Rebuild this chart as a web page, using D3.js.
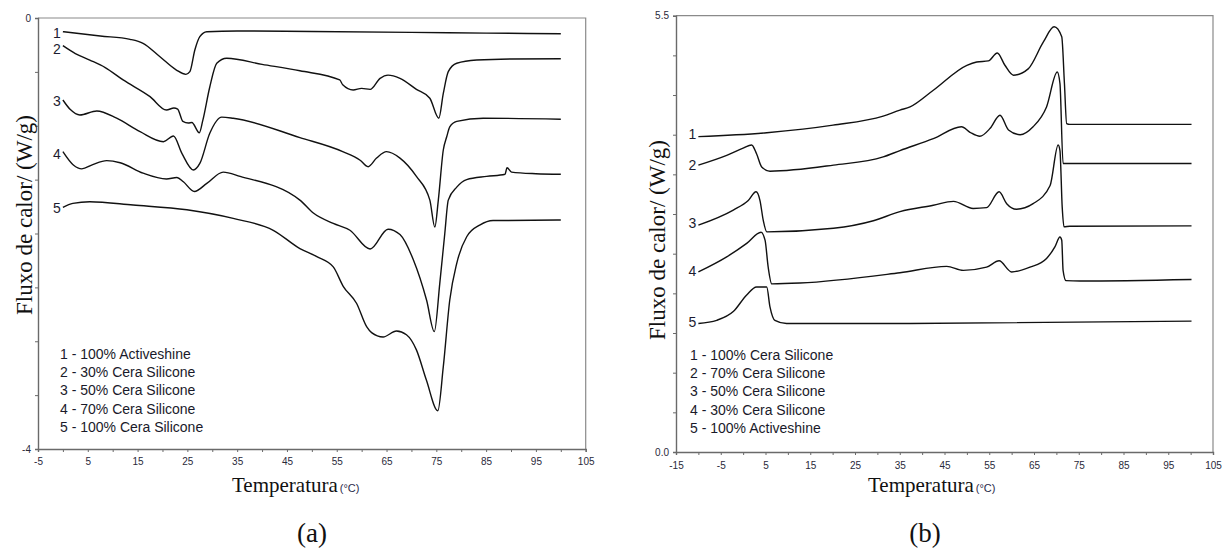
<!DOCTYPE html>
<html>
<head>
<meta charset="utf-8">
<script src="https://cdn.jsdelivr.net/npm/d3@7"></script>
<style>
  html, body { margin: 0; padding: 0; background: #fff; }
  svg { display: block; }
</style>
</head>
<body>
<svg id="chart" width="1223" height="548"></svg>
<script>
// ---------- DATA: panel (a) ----------
const curveA1 = [[0,-0.127],[7.5,-0.167],[13.5,-0.198],[16.1,-0.235],[19.5,-0.36],[22.8,-0.483],[24.7,-0.523],[25.5,-0.498],[26.5,-0.297],[27.5,-0.173],[28.9,-0.127],[35,-0.12],[50,-0.125],[70,-0.133],[85,-0.14],[100,-0.146]];
const curveA2 = [[0,-0.257],[2.5,-0.33],[5.4,-0.39],[8.5,-0.46],[12.1,-0.575],[17.5,-0.73],[20.8,-0.854],[22.3,-0.835],[23.05,-0.845],[24.1,-0.96],[25.2,-0.975],[25.9,-0.97],[27.4,-1.065],[28.1,-0.95],[29.5,-0.64],[30.9,-0.42],[32.9,-0.374],[40,-0.43],[47.6,-0.49],[55.6,-0.575],[56.2,-0.62],[58.3,-0.668],[60,-0.653],[61.7,-0.662],[63.7,-0.56],[65.3,-0.53],[67.7,-0.56],[71,-0.662],[73.7,-0.745],[75.5,-0.93],[76.4,-0.70],[77.4,-0.498],[79.1,-0.42],[83.1,-0.39],[90,-0.38],[100,-0.378]];
const curveA3 = [[0,-0.761],[1.5,-0.85],[3.4,-0.9],[6.8,-0.863],[10.8,-0.93],[15.5,-1.055],[20.2,-1.148],[22.2,-1.095],[23.9,-1.256],[26.2,-1.41],[27.5,-1.35],[29.5,-1.07],[31.9,-0.92],[34.2,-0.93],[47.6,-1.11],[56.2,-1.24],[59.7,-1.32],[61.3,-1.38],[63,-1.30],[65,-1.24],[67.7,-1.30],[71,-1.47],[73.7,-1.69],[74.7,-1.94],[75.4,-1.69],[76.4,-1.225],[77.1,-1.10],[77.7,-1.01],[79.1,-0.96],[84.4,-0.93],[100,-0.94]];
const curveA4 = [[0,-1.24],[2.1,-1.364],[3.8,-1.40],[6,-1.36],[8.8,-1.324],[11.5,-1.343],[16.1,-1.44],[20.8,-1.494],[22.9,-1.48],[24.2,-1.52],[26.4,-1.61],[28.9,-1.535],[32.2,-1.43],[35.6,-1.47],[47.6,-1.69],[50.3,-1.81],[54.3,-1.906],[57.65,-1.97],[61.7,-2.144],[65.3,-1.96],[67.7,-2.01],[70.4,-2.246],[73.05,-2.62],[74.6,-2.91],[75.7,-2.46],[76.7,-2.0],[77.4,-1.69],[79.1,-1.57],[81.1,-1.50],[85.1,-1.47],[88.8,-1.45],[89.2,-1.39],[90.1,-1.43],[95,-1.445],[100,-1.45]];
const curveA5 = [[0,-1.757],[2,-1.72],[5.4,-1.705],[14.1,-1.736],[24.9,-1.78],[34.2,-1.86],[42.25,-1.97],[47.6,-2.14],[51,-2.215],[54.3,-2.31],[56.3,-2.49],[59,-2.65],[61,-2.865],[62,-2.92],[64.3,-2.96],[67,-2.905],[69,-2.94],[71,-3.08],[73,-3.36],[75.3,-3.645],[76.4,-3.236],[77.7,-2.617],[79.1,-2.277],[81.1,-2.03],[83.8,-1.92],[86.4,-1.88],[100,-1.875]];
const legendA = ["1 - 100% Activeshine","2 - 30% Cera Silicone","3 - 50% Cera Silicone","4 - 70% Cera Silicone","5 - 100% Cera Silicone"];
const xTicksA = [-5,0,5,10,15,20,25,30,35,40,45,50,55,60,65,70,75,80,85,90,95,100,105];
const xLabelsA = [-5,5,15,25,35,45,55,65,75,85,95,105];
const yTicksA = [0,-0.5,-1,-1.5,-2,-2.5,-3,-3.5,-4];
const yLabelsA = [0,-4];

// ---------- DATA: panel (b) ----------
const curveB1 = [[-10,3.975],[5.3,4.025],[20.1,4.12],[31.3,4.235],[35.05,4.31],[37.3,4.35],[42.5,4.56],[50,4.875],[52.2,4.916],[54.8,4.93],[56.8,5.03],[58.5,4.875],[60.4,4.75],[63.7,4.83],[67.1,5.17],[69.5,5.36],[71.2,5.235],[71.8,4.645],[72.3,4.14],[73,4.13],[100.2,4.13]];
const curveB2 = [[-10,3.617],[-3.67,3.74],[0,3.83],[1.9,3.87],[3.0,3.76],[4.15,3.593],[6.0,3.54],[20.2,3.617],[31.3,3.72],[35.05,3.80],[42.5,3.95],[48.8,4.10],[50.7,4.03],[52.9,3.98],[55.2,4.08],[57.4,4.245],[59.3,4.06],[61.9,4.0],[64.8,4.10],[67.8,4.35],[70.2,4.79],[70.8,4.645],[71.5,3.636],[73,3.636],[100.2,3.636]];
const curveB3 = [[-10,2.86],[-2.2,3.05],[1.15,3.17],[2.88,3.28],[3.77,3.17],[4.5,2.92],[5.3,2.775],[20.2,2.82],[29.1,2.915],[35.05,3.03],[42.5,3.11],[47,3.16],[51.4,3.07],[54.4,3.08],[57.2,3.28],[58.9,3.13],[61.1,3.06],[64.8,3.13],[68.6,3.36],[70.4,3.87],[70.8,3.80],[71.3,3.09],[71.7,2.84],[73,2.845],[100.2,2.85]];
const curveB4 = [[-10,2.27],[-3.67,2.46],[0.8,2.63],[4.0,2.77],[4.9,2.67],[5.6,2.33],[6.4,2.12],[12.7,2.13],[35.05,2.26],[45.5,2.34],[49.2,2.29],[54.4,2.33],[57.2,2.41],[60,2.27],[64.1,2.33],[67.8,2.44],[69.7,2.59],[70.8,2.71],[71.2,2.67],[71.5,2.29],[72.15,2.16],[75.3,2.155],[100.2,2.175]];
const curveB5 = [[-10,1.62],[-5.9,1.66],[-2.2,1.77],[0.8,1.98],[3.0,2.08],[5.27,2.08],[6.0,1.83],[7.1,1.66],[9.7,1.62],[37.3,1.62],[100.2,1.65]];
const legendB = ["1 - 100% Cera Silicone","2 - 70% Cera Silicone","3 - 50% Cera Silicone","4 - 30% Cera Silicone","5 - 100% Activeshine"];
const xTicksB = [-15,-10,-5,0,5,10,15,20,25,30,35,40,45,50,55,60,65,70,75,80,85,90,95,100,105];
const xLabelsB = [-15,-5,5,15,25,35,45,55,65,75,85,95,105];
const yTicksB = [0,0.5,1,1.5,2,2.5,3,3.5,4,4.5,5,5.5];
const yLabelsB = [0,5.5];
const curveNames = ["1","2","3","4","5"];

// ---------- DRAW ----------
const svg = d3.select("#chart");

function panel(cfg) {
  const x = d3.scaleLinear().domain(cfg.xDomain).range([cfg.left, cfg.right]);
  const y = d3.scaleLinear().domain(cfg.yDomain).range([cfg.bottom, cfg.top]);
  const g = svg.append("g");

  // frame (top/right)
  g.append("path")
    .attr("d", `M${cfg.left},${cfg.top}H${cfg.right}V${cfg.bottom}`)
    .attr("fill", "none").attr("stroke", "#8a8a8a").attr("stroke-width", 1.2);

  const xAxis = d3.axisBottom(x).tickValues(cfg.xTicks).tickSize(3).tickPadding(cfg.xPad)
    .tickFormat(d => cfg.xLabels.includes(d) ? String(d) : "");
  const gx = g.append("g").attr("transform", `translate(0,${cfg.bottom})`).call(xAxis);
  const yAxis = d3.axisLeft(y).tickValues(cfg.yTicks).tickSize(3).tickPadding(4)
    .tickFormat(d => cfg.yLabels.includes(d) ? cfg.yFmt(d) : "");
  const gy = g.append("g").attr("transform", `translate(${cfg.left},0)`).call(yAxis);
  [gx, gy].forEach(a => {
    a.select(".domain").attr("stroke", "#6a6a6a").attr("stroke-width", 1.4);
    a.selectAll(".tick line").attr("stroke", "#6a6a6a").attr("stroke-width", 1);
    a.selectAll(".tick text").attr("font-family", "'Liberation Sans', Arial, sans-serif")
      .attr("font-size", 10).attr("fill", "#2a2a3a");
  });

  const line = d3.line().x(d => x(d[0])).y(d => y(d[1])).curve(d3.curveMonotoneX);
  cfg.curves.forEach((c, i) => {
    g.append("path").datum(c).attr("d", line)
      .attr("fill", "none").attr("stroke", "#111").attr("stroke-width", 1.4)
      .attr("stroke-linejoin", "round");
    g.append("text")
      .attr("x", x(c[0][0]) - 2).attr("y", y(c[0][1]) + cfg.labDy[i])
      .attr("text-anchor", "end")
      .attr("font-family", "'Liberation Sans', Arial, sans-serif").attr("font-size", 14)
      .attr("fill", "#1c1c30").text(curveNames[i]);
  });

  // legend
  g.append("g").selectAll("text").data(cfg.legend).join("text")
    .attr("x", cfg.legX).attr("y", (d, i) => cfg.legY + i * 18.2)
    .attr("font-family", "'Liberation Sans', Arial, sans-serif").attr("font-size", 14)
    .attr("fill", "#1a1a2a").text(d => d);

  // y title
  g.append("text")
    .attr("transform", `translate(${cfg.yTitleX},${cfg.yTitleY}) rotate(-90)`)
    .attr("text-anchor", "middle")
    .attr("font-family", "'Liberation Serif', 'Times New Roman', serif").attr("font-size", 23)
    .attr("fill", "#111").text("Fluxo de calor/ (W/g)");

  // x title
  const xt = g.append("text").attr("x", cfg.xTitleX).attr("y", 492)
    .attr("font-family", "'Liberation Serif', 'Times New Roman', serif").attr("font-size", 21).attr("fill", "#111");
  xt.append("tspan").text("Temperatura");
  xt.append("tspan").attr("font-family", "'Liberation Sans', Arial, sans-serif").attr("font-size", 11)
    .attr("fill", "#2a2a4a").attr("dx", 2).text("(°C)");

  // panel tag
  g.append("text").attr("x", cfg.tagX).attr("y", 542).attr("text-anchor", "middle")
    .attr("font-family", "'Liberation Serif', 'Times New Roman', serif").attr("font-size", 27)
    .attr("fill", "#111").text(cfg.tag);
}

panel({
  xDomain: [-5, 105], yDomain: [-4, 0],
  left: 38, right: 585.7, top: 18, bottom: 449,
  xTicks: xTicksA, xLabels: xLabelsA, xPad: 6,
  yTicks: yTicksA, yLabels: yLabelsA, yFmt: d => String(d),
  curves: [curveA1, curveA2, curveA3, curveA4, curveA5],
  labDy: [6, 8, 6, 7, 6],
  legend: legendA, legX: 60, legY: 359,
  yTitleX: 32, yTitleY: 215,
  xTitleX: 232, tagX: 312, tag: "(a)"
});

panel({
  xDomain: [-15, 105], yDomain: [0, 5.5],
  left: 676, right: 1213, top: 15.7, bottom: 452,
  xTicks: xTicksB, xLabels: xLabelsB, xPad: 7,
  yTicks: yTicksB, yLabels: yLabelsB, yFmt: d => d.toFixed(1),
  curves: [curveB1, curveB2, curveB3, curveB4, curveB5],
  labDy: [2, 5, 3, 4, 4],
  legend: legendB, legX: 690, legY: 360,
  yTitleX: 665, yTitleY: 240,
  xTitleX: 868, tagX: 925, tag: "(b)"
});
</script>
</body>
</html>
